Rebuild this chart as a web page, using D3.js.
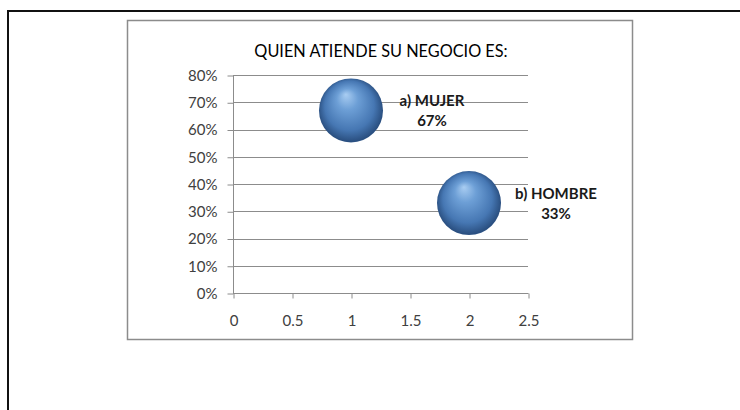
<!DOCTYPE html>
<html>
<head>
<meta charset="utf-8">
<script src="https://cdn.jsdelivr.net/npm/d3@7"></script>
<style>
  body { margin: 0; background: #fff; }
  svg { display: block; }
  .tick text { font-family: Lato, "Open Sans", sans-serif; font-size: 15px; fill: #404040; }
  .lbl { font-family: Lato, "Open Sans", sans-serif; font-size: 15px; font-weight: bold; fill: #1a1a1a; }
</style>
</head>
<body>
<svg id="chart" width="740" height="410"></svg>
<script>
// data
var categories = ["a) MUJER", "b) HOMBRE"];
var xValues = [1, 2];
var yValues = [0.67, 0.33];
var yTicks = [0, 0.1, 0.2, 0.3, 0.4, 0.5, 0.6, 0.7, 0.8];
var xTicks = [0, 0.5, 1, 1.5, 2, 2.5];
var title = "QUIEN ATIENDE SU NEGOCIO ES:";

var svg = d3.select("#chart");

// outer page frame
svg.append("path")
  .attr("d", "M8,412 L8,11 L742,11")
  .attr("fill", "none")
  .attr("stroke", "#111")
  .attr("stroke-width", 2);

// chart box
svg.append("rect")
  .attr("x", 127.5).attr("y", 20.5)
  .attr("width", 505).attr("height", 319)
  .attr("fill", "#fff")
  .attr("stroke", "#8c8c8c")
  .attr("stroke-width", 1.5);

svg.append("text")
  .attr("x", 381).attr("y", 57)
  .attr("text-anchor", "middle")
  .style("font-family", "Lato, 'Open Sans', sans-serif")
  .style("font-size", "16.3px")
  .style("fill", "#000")
  .text(title);

var x = d3.scaleLinear().domain([0, 2.5]).range([233, 528]);
var y = d3.scaleLinear().domain([0, 0.8]).range([293, 75]);

// gradient for the bubbles
var defs = svg.append("defs");
var grad = defs.append("radialGradient")
  .attr("id", "ball")
  .attr("cx", "0.5").attr("cy", "0.5").attr("r", "0.55")
  .attr("fx", "0.42").attr("fy", "0.25");
grad.append("stop").attr("offset", "0%").attr("stop-color", "#a9cdf2");
grad.append("stop").attr("offset", "30%").attr("stop-color", "#6d9fd6");
grad.append("stop").attr("offset", "70%").attr("stop-color", "#4677b3");
grad.append("stop").attr("offset", "92%").attr("stop-color", "#2a4f80");
grad.append("stop").attr("offset", "100%").attr("stop-color", "#4a78b0");

// gridlines
svg.append("g")
  .selectAll("line")
  .data(yTicks)
  .join("line")
  .attr("x1", x(0)).attr("x2", x(2.5))
  .attr("y1", function (d) { return Math.round(y(d)) + 0.5; })
  .attr("y2", function (d) { return Math.round(y(d)) + 0.5; })
  .attr("stroke", "#8c8c8c");

var yAxis = svg.append("g")
  .attr("transform", "translate(" + (x(0) + 0.5) + ",0.5)")
  .call(d3.axisLeft(y).tickValues(yTicks).tickSize(6).tickPadding(10)
    .tickFormat(d3.format(".0%")));

var xAxis = svg.append("g")
  .attr("transform", "translate(0.5," + (Math.round(y(0)) + 0.5) + ")")
  .call(d3.axisBottom(x).tickValues(xTicks).tickSize(5).tickPadding(17)
    .tickFormat(function (d) { return d; }));

svg.selectAll(".domain, .tick line").attr("stroke", "#8c8c8c");
xAxis.select(".domain").attr("d", "M" + x(0) + ",0H" + x(2.5));
yAxis.select(".domain").attr("d", "M0," + y(0.8) + "V" + y(0));

// bubbles
var r = 32;
svg.append("g")
  .selectAll("circle")
  .data(xValues)
  .join("circle")
  .attr("cx", function (d) { return x(d); })
  .attr("cy", function (d, i) { return y(yValues[i]); })
  .attr("r", r)
  .attr("fill", "url(#ball)");

// labels
function lx(d, i) { return x(d) + r + 49 + (i === 1 ? 6 : 0); }
var lbl = svg.append("g")
  .selectAll("text")
  .data(xValues)
  .join("text")
  .attr("class", "lbl")
  .attr("text-anchor", "middle")
  .attr("x", lx)
  .attr("y", function (d, i) { return y(yValues[i]); });
lbl.append("tspan")
  .attr("x", lx)
  .attr("dy", -4)
  .text(function (d, i) { return categories[i]; });
lbl.append("tspan")
  .attr("x", lx)
  .attr("dy", 20)
  .text(function (d, i) { return d3.format(".0%")(yValues[i]); });
</script>
</body>
</html>
